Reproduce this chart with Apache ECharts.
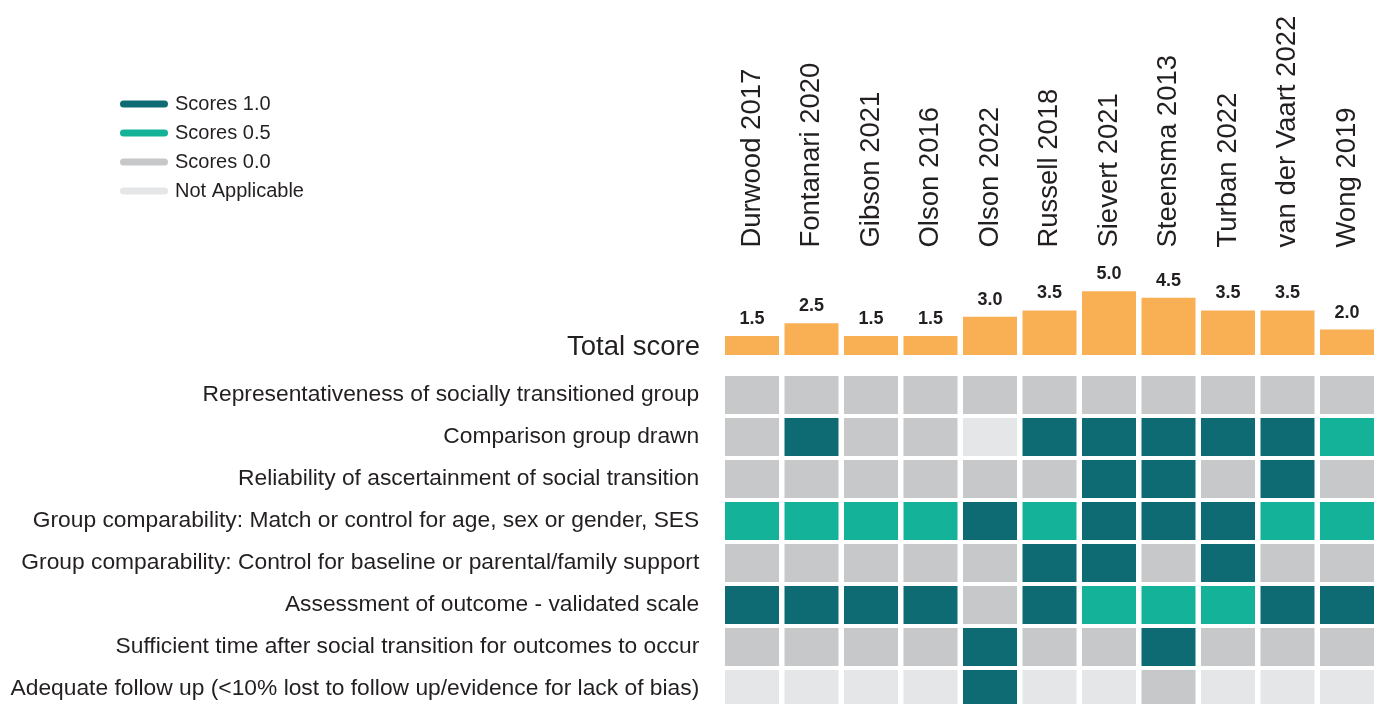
<!DOCTYPE html>
<html>
<head>
<meta charset="utf-8">
<script src="https://cdn.jsdelivr.net/npm/echarts@6/dist/echarts.min.js"></script>
<style>
html,body{margin:0;padding:0;background:#fff;}
#chart{width:1382px;height:704px;}
</style>
</head>
<body>
<div id="chart"></div>
<script>
// ---------- DATA ----------
const studies = ['Durwood 2017','Fontanari 2020','Gibson 2021','Olson 2016','Olson 2022','Russell 2018','Sievert 2021','Steensma 2013','Turban 2022','van der Vaart 2022','Wong 2019'];
const totalScores = [1.5, 2.5, 1.5, 1.5, 3.0, 3.5, 5.0, 4.5, 3.5, 3.5, 2.0];
const criteria = [
  'Representativeness of socially transitioned group',
  'Comparison group drawn',
  'Reliability of ascertainment of social transition',
  'Group comparability: Match or control for age, sex or gender, SES',
  'Group comparability: Control for baseline or parental/family support',
  'Assessment of outcome - validated scale',
  'Sufficient time after social transition for outcomes to occur',
  'Adequate follow up (<10% lost to follow up/evidence for lack of bias)'
];
// null = Not Applicable
const representativeness = [0, 0, 0, 0, 0, 0, 0, 0, 0, 0, 0];
const comparisonGroup    = [0, 1, 0, 0, null, 1, 1, 1, 1, 1, 0.5];
const reliability        = [0, 0, 0, 0, 0, 0, 1, 1, 0, 1, 0];
const matchAgeSex        = [0.5, 0.5, 0.5, 0.5, 1, 0.5, 1, 1, 1, 0.5, 0.5];
const baselineSupport    = [0, 0, 0, 0, 0, 1, 1, 0, 1, 0, 0];
const validatedScale     = [1, 1, 1, 1, 0, 1, 0.5, 0.5, 0.5, 1, 1];
const sufficientTime     = [0, 0, 0, 0, 1, 0, 0, 1, 0, 0, 0];
const adequateFollowUp   = [null, null, null, null, 1, null, null, 0, null, null, null];
const scoreRows = [representativeness, comparisonGroup, reliability, matchAgeSex, baselineSupport, validatedScale, sufficientTime, adequateFollowUp];
const legendNames = ['Scores 1.0', 'Scores 0.5', 'Scores 0.0', 'Not Applicable'];
const legendValues = [1, 0.5, 0, null];

// ---------- STYLE ----------
const colors = ['#0f6b73', '#14b399', '#c7c8ca', '#e5e6e8'];
const barColor = '#f9b055';
const textColor = '#231f20';
const font = 'Liberation Sans, Arial, Helvetica, sans-serif';
const capsule = 'path://M3.5,0 L44.5,0 A3.5,3.5 0 0 1 44.5,7 L3.5,7 A3.5,3.5 0 0 1 3.5,0 Z';

const chart = echarts.init(document.getElementById('chart'));

function cellRender(params, api) {
  const c = api.coord([api.value(0), api.value(1)]);
  const s = api.size([1, 1]);
  const w = s[0] - 5.5, h = s[1] - 4;
  return {
    type: 'rect',
    shape: { x: c[0] - w / 2, y: c[1] - h / 2, width: w, height: h },
    style: { fill: api.visual('color') }
  };
}

const cellSeries = legendNames.map((name, k) => {
  const data = [];
  scoreRows.forEach((row, r) => {
    row.forEach((v, c) => {
      if (v === legendValues[k]) data.push([c, r]);
    });
  });
  return {
    name: name,
    type: 'custom',
    xAxisIndex: 1,
    yAxisIndex: 1,
    renderItem: cellRender,
    itemStyle: { color: colors[k] },
    encode: { x: 0, y: 1 },
    data: data,
    clip: false,
    silent: true
  };
});

const gridLeft = 722.25, gridWidth = 654.5;

chart.setOption({
  animation: false,
  textStyle: { fontFamily: font },
  legend: {
    orient: 'vertical',
    left: 120,
    top: 94,
    padding: 0,
    selectedMode: false,
    itemWidth: 48,
    itemHeight: 7,
    itemGap: 9,
    data: legendNames.map((n, k) => ({ name: n, icon: capsule, itemStyle: { color: colors[k] } })),
    textStyle: { fontSize: 20, color: textColor, fontFamily: font, lineHeight: 20, padding: [0, 0, 0, 2] }
  },
  grid: [
    { left: gridLeft, width: gridWidth, top: 278.6, height: 76.4, outerBoundsMode: 'none', containLabel: false },
    { left: gridLeft, width: gridWidth, top: 374, height: 336, outerBoundsMode: 'none', containLabel: false }
  ],
  xAxis: [
    {
      type: 'category', gridIndex: 0, data: studies, position: 'top',
      axisLine: { show: false }, axisTick: { show: false },
      axisLabel: { rotate: 90, margin: 31, fontSize: 27.5, color: textColor, fontFamily: font, interval: 0 }
    },
    {
      type: 'category', gridIndex: 1, data: studies,
      axisLine: { show: false }, axisTick: { show: false }, axisLabel: { show: false }
    }
  ],
  yAxis: [
    {
      type: 'value', gridIndex: 0, min: 0, max: 6,
      show: false
    },
    {
      type: 'category', gridIndex: 1, data: criteria, inverse: true,
      axisLine: { show: false }, axisTick: { show: false }, splitLine: { show: false },
      axisLabel: { margin: 23, fontSize: 22.8, color: textColor, fontFamily: font, interval: 0 }
    }
  ],
  graphic: [
    {
      type: 'text', x: 700, y: 347,
      style: { text: 'Total score', align: 'right', verticalAlign: 'middle', fontSize: 27.5, fill: textColor, fontFamily: font }
    }
  ],
  series: [
    {
      type: 'bar', xAxisIndex: 0, yAxisIndex: 0,
      data: totalScores,
      barWidth: 54,
      itemStyle: { color: barColor },
      label: {
        show: true, position: 'top', distance: 8,
        formatter: p => p.value.toFixed(1),
        fontSize: 18, fontWeight: 'bold', color: textColor, fontFamily: font
      },
      silent: true
    }
  ].concat(cellSeries)
});
</script>
</body>
</html>
